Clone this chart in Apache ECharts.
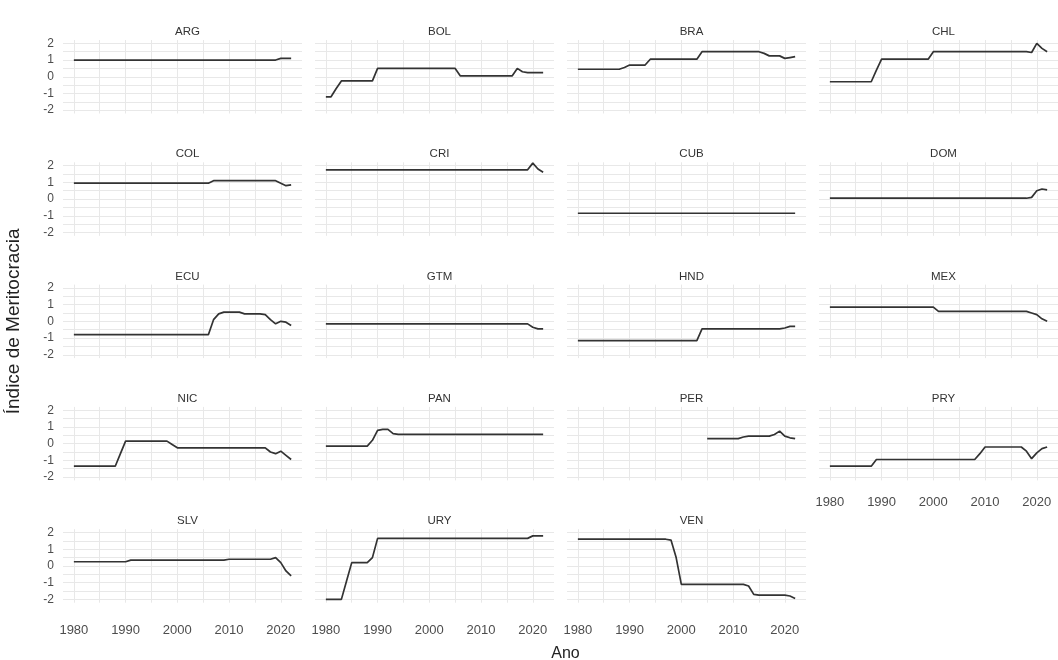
<!DOCTYPE html>
<html><head><meta charset="utf-8">
<script src="https://cdn.jsdelivr.net/npm/echarts@6/dist/echarts.min.js"></script>
<style>html,body{margin:0;padding:0;background:#fff}#c{width:1058px;height:660px}</style>
</head><body><div id="c"></div>
<script>
const years = [1980,1981,1982,1983,1984,1985,1986,1987,1988,1989,
  1990,1991,1992,1993,1994,1995,1996,1997,1998,1999,
  2000,2001,2002,2003,2004,2005,2006,2007,2008,2009,
  2010,2011,2012,2013,2014,2015,2016,2017,2018,2019,
  2020,2021,2022];
const countries = ['ARG','BOL','BRA','CHL','COL','CRI','CUB','DOM','ECU','GTM','HND','MEX','NIC','PAN','PER','PRY','SLV','URY','VEN'];

const ARG = [1,1,1,1,1,1,1,1,1,1, 1,1,1,1,1,1,1,1,1,1, 1,1,1,1,1,1,1,1,1,1, 1,1,1,1,1,1,1,1,1,1, 1.1,1.1,1.1];
const BOL = [-1.2,-1.2,-0.7,-0.25,-0.25,-0.25,-0.25,-0.25,-0.25,-0.25, 0.5,0.5,0.5,0.5,0.5,0.5,0.5,0.5,0.5,0.5, 0.5,0.5,0.5,0.5,0.5,0.5,0.05,0.05,0.05,0.05, 0.05,0.05,0.05,0.05,0.05,0.05,0.05,0.5,0.3,0.25, 0.25,0.25,0.25];
const BRA = [0.45,0.45,0.45,0.45,0.45,0.45,0.45,0.45,0.45,0.55, 0.7,0.7,0.7,0.7,1.05,1.05,1.05,1.05,1.05,1.05, 1.05,1.05,1.05,1.05,1.5,1.5,1.5,1.5,1.5,1.5, 1.5,1.5,1.5,1.5,1.5,1.5,1.4,1.25,1.25,1.25, 1.1,1.15,1.2];
const CHL = [-0.3,-0.3,-0.3,-0.3,-0.3,-0.3,-0.3,-0.3,-0.3,0.4, 1.05,1.05,1.05,1.05,1.05,1.05,1.05,1.05,1.05,1.05, 1.5,1.5,1.5,1.5,1.5,1.5,1.5,1.5,1.5,1.5, 1.5,1.5,1.5,1.5,1.5,1.5,1.5,1.5,1.5,1.45, 2.0,1.7,1.5];
const COL = [0.95,0.95,0.95,0.95,0.95,0.95,0.95,0.95,0.95,0.95, 0.95,0.95,0.95,0.95,0.95,0.95,0.95,0.95,0.95,0.95, 0.95,0.95,0.95,0.95,0.95,0.95,0.95,1.1,1.1,1.1, 1.1,1.1,1.1,1.1,1.1,1.1,1.1,1.1,1.1,1.1, 0.95,0.8,0.85];
const CRI = [1.75,1.75,1.75,1.75,1.75,1.75,1.75,1.75,1.75,1.75, 1.75,1.75,1.75,1.75,1.75,1.75,1.75,1.75,1.75,1.75, 1.75,1.75,1.75,1.75,1.75,1.75,1.75,1.75,1.75,1.75, 1.75,1.75,1.75,1.75,1.75,1.75,1.75,1.75,1.75,1.75, 2.15,1.8,1.6];
const CUB = [-0.85,-0.85,-0.85,-0.85,-0.85,-0.85,-0.85,-0.85,-0.85,-0.85, -0.85,-0.85,-0.85,-0.85,-0.85,-0.85,-0.85,-0.85,-0.85,-0.85, -0.85,-0.85,-0.85,-0.85,-0.85,-0.85,-0.85,-0.85,-0.85,-0.85, -0.85,-0.85,-0.85,-0.85,-0.85,-0.85,-0.85,-0.85,-0.85,-0.85, -0.85,-0.85,-0.85];
const DOM = [0.05,0.05,0.05,0.05,0.05,0.05,0.05,0.05,0.05,0.05, 0.05,0.05,0.05,0.05,0.05,0.05,0.05,0.05,0.05,0.05, 0.05,0.05,0.05,0.05,0.05,0.05,0.05,0.05,0.05,0.05, 0.05,0.05,0.05,0.05,0.05,0.05,0.05,0.05,0.05,0.1, 0.5,0.6,0.55];
const ECU = [-0.8,-0.8,-0.8,-0.8,-0.8,-0.8,-0.8,-0.8,-0.8,-0.8, -0.8,-0.8,-0.8,-0.8,-0.8,-0.8,-0.8,-0.8,-0.8,-0.8, -0.8,-0.8,-0.8,-0.8,-0.8,-0.8,-0.8,0.1,0.45,0.55, 0.55,0.55,0.55,0.45,0.45,0.45,0.45,0.4,0.1,-0.15, 0.0,-0.05,-0.25];
const GTM = [-0.15,-0.15,-0.15,-0.15,-0.15,-0.15,-0.15,-0.15,-0.15,-0.15, -0.15,-0.15,-0.15,-0.15,-0.15,-0.15,-0.15,-0.15,-0.15,-0.15, -0.15,-0.15,-0.15,-0.15,-0.15,-0.15,-0.15,-0.15,-0.15,-0.15, -0.15,-0.15,-0.15,-0.15,-0.15,-0.15,-0.15,-0.15,-0.15,-0.15, -0.35,-0.45,-0.45];
const HND = [-1.15,-1.15,-1.15,-1.15,-1.15,-1.15,-1.15,-1.15,-1.15,-1.15, -1.15,-1.15,-1.15,-1.15,-1.15,-1.15,-1.15,-1.15,-1.15,-1.15, -1.15,-1.15,-1.15,-1.15,-0.45,-0.45,-0.45,-0.45,-0.45,-0.45, -0.45,-0.45,-0.45,-0.45,-0.45,-0.45,-0.45,-0.45,-0.45,-0.45, -0.4,-0.3,-0.3];
const MEX = [0.85,0.85,0.85,0.85,0.85,0.85,0.85,0.85,0.85,0.85, 0.85,0.85,0.85,0.85,0.85,0.85,0.85,0.85,0.85,0.85, 0.85,0.6,0.6,0.6,0.6,0.6,0.6,0.6,0.6,0.6, 0.6,0.6,0.6,0.6,0.6,0.6,0.6,0.6,0.6,0.5, 0.4,0.15,0.0];
const NIC = [-1.35,-1.35,-1.35,-1.35,-1.35,-1.35,-1.35,-1.35,-1.35,-0.6, 0.15,0.15,0.15,0.15,0.15,0.15,0.15,0.15,0.15,-0.05, -0.25,-0.25,-0.25,-0.25,-0.25,-0.25,-0.25,-0.25,-0.25,-0.25, -0.25,-0.25,-0.25,-0.25,-0.25,-0.25,-0.25,-0.25,-0.5,-0.6, -0.45,-0.7,-0.95];
const PAN = [-0.15,-0.15,-0.15,-0.15,-0.15,-0.15,-0.15,-0.15,-0.15,0.2, 0.8,0.85,0.85,0.6,0.55,0.55,0.55,0.55,0.55,0.55, 0.55,0.55,0.55,0.55,0.55,0.55,0.55,0.55,0.55,0.55, 0.55,0.55,0.55,0.55,0.55,0.55,0.55,0.55,0.55,0.55, 0.55,0.55,0.55];
const PER = [null,null,null,null,null,null,null,null,null,null, null,null,null,null,null,null,null,null,null,null, null,null,null,null,null,0.3,0.3,0.3,0.3,0.3, 0.3,0.3,0.4,0.45,0.45,0.45,0.45,0.45,0.55,0.75, 0.45,0.35,0.3];
const PRY = [-1.35,-1.35,-1.35,-1.35,-1.35,-1.35,-1.35,-1.35,-1.35,-0.95, -0.95,-0.95,-0.95,-0.95,-0.95,-0.95,-0.95,-0.95,-0.95,-0.95, -0.95,-0.95,-0.95,-0.95,-0.95,-0.95,-0.95,-0.95,-0.95,-0.6, -0.2,-0.2,-0.2,-0.2,-0.2,-0.2,-0.2,-0.2,-0.45,-0.9, -0.55,-0.3,-0.2];
const SLV = [0.25,0.25,0.25,0.25,0.25,0.25,0.25,0.25,0.25,0.25, 0.25,0.35,0.35,0.35,0.35,0.35,0.35,0.35,0.35,0.35, 0.35,0.35,0.35,0.35,0.35,0.35,0.35,0.35,0.35,0.35, 0.4,0.4,0.4,0.4,0.4,0.4,0.4,0.4,0.4,0.5, 0.2,-0.3,-0.6];
const URY = [-2,-2,-2,-2,-0.9,0.2,0.2,0.2,0.2,0.5, 1.65,1.65,1.65,1.65,1.65,1.65,1.65,1.65,1.65,1.65, 1.65,1.65,1.65,1.65,1.65,1.65,1.65,1.65,1.65,1.65, 1.65,1.65,1.65,1.65,1.65,1.65,1.65,1.65,1.65,1.65, 1.8,1.8,1.8];
const VEN = [1.6,1.6,1.6,1.6,1.6,1.6,1.6,1.6,1.6,1.6, 1.6,1.6,1.6,1.6,1.6,1.6,1.6,1.6,1.55,0.5, -1.1,-1.1,-1.1,-1.1,-1.1,-1.1,-1.1,-1.1,-1.1,-1.1, -1.1,-1.1,-1.1,-1.2,-1.7,-1.75,-1.75,-1.75,-1.75,-1.75, -1.75,-1.8,-1.95];

const valuesByCountry = {ARG,BOL,BRA,CHL,COL,CRI,CUB,DOM,ECU,GTM,HND,MEX,NIC,PAN,PER,PRY,SLV,URY,VEN};

const xGridValues = [1980,1985,1990,1995,2000,2005,2010,2015,2020];
const xLabelValues = [1980,1990,2000,2010,2020];
const yGridValues = [-2,-1.5,-1,-0.5,0,0.5,1,1.5,2];
const yLabelValues = [-2,-1,0,1,2];
const xTitle = 'Ano';
const yTitle = 'Índice de Meritocracia';

// layout
const FONT = "'Liberation Sans', Arial, sans-serif";
const colLeft = [63, 315, 567, 819];
const panelW = 239;
const rowTop = [40, 162.3, 284.6, 406.9, 529.2];
const panelH = 73.5;

const grids = [], xAxes = [], yAxes = [], series = [], titles = [];
countries.forEach((name, i) => {
  const r = Math.floor(i / 4), c = i % 4;
  const isBottom = (r === 4) || (r === 3 && c === 3);
  grids.push({left: colLeft[c], top: rowTop[r], width: panelW, height: panelH, containLabel: false});
  xAxes.push({
    type: 'value', gridIndex: i, min: 1977.9, max: 2024.1,
    axisLine: {show: false},
    axisTick: {show: false, customValues: xGridValues},
    axisLabel: {show: isBottom, customValues: xLabelValues, formatter: v => String(v),
      color: '#4d4d4d', fontSize: 13, fontFamily: FONT, margin: r === 4 ? 21 : 16},
    splitLine: {show: true, lineStyle: {color: '#e8e8e8', width: 1}}
  });
  const ya = {
    type: 'value', gridIndex: i, min: -2.2, max: 2.2,
    axisLine: {show: false},
    axisTick: {show: false, customValues: yGridValues},
    axisLabel: {show: c === 0, customValues: yLabelValues, formatter: v => String(v),
      color: '#4d4d4d', fontSize: 12, fontFamily: FONT, margin: 9},
    splitLine: {show: true, lineStyle: {color: '#e8e8e8', width: 1}}
  };
  if (name === 'ECU') {
    Object.assign(ya, {name: yTitle, nameLocation: 'middle', nameGap: 40, nameRotate: 90,
      nameTextStyle: {color: '#222', fontSize: 19, fontFamily: FONT}});
  }
  yAxes.push(ya);
  const vals = valuesByCountry[name];
  series.push({
    type: 'line', name, xAxisIndex: i, yAxisIndex: i,
    data: years.map((y, k) => [y, vals[k]]),
    showSymbol: false, symbol: 'none', connectNulls: false,
    lineStyle: {color: '#333333', width: 1.7},
    animation: false
  });
  titles.push({text: name, left: colLeft[c] + panelW / 2, top: rowTop[r] - 19, textAlign: 'center',
    textStyle: {fontSize: 11.5, fontWeight: 'normal', color: '#333', fontFamily: FONT}});
});
titles.push({text: xTitle, left: (colLeft[0] + colLeft[3] + panelW) / 2, top: 641, textAlign: 'center',
  textStyle: {fontSize: 16, fontWeight: 'normal', color: '#222', fontFamily: FONT}});

const chart = echarts.init(document.getElementById('c'), null, {renderer: 'canvas'});
chart.setOption({
  backgroundColor: '#fff',
  animation: false,
  title: titles,
  grid: grids, xAxis: xAxes, yAxis: yAxes, series
});
</script></body></html>
